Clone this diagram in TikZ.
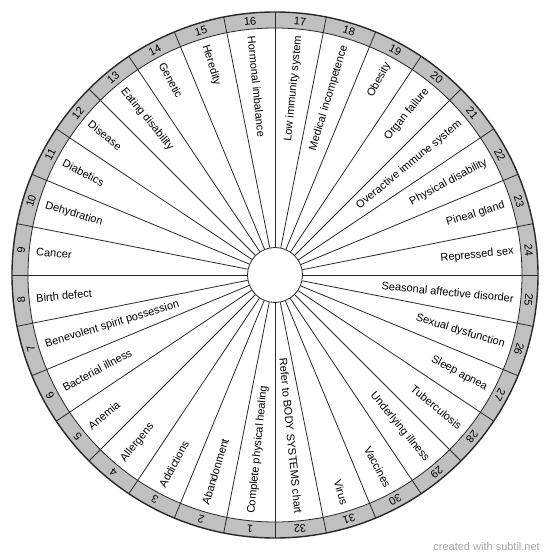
\documentclass[tikz,border=0pt]{standalone}
\usepackage{fontspec}
\setmainfont{Liberation Sans}
\usepackage{tikz}

\definecolor{ringgray}{RGB}{192,192,192}
\definecolor{spokegray}{RGB}{40,40,40}
\definecolor{markgray}{RGB}{165,165,165}

\tikzset{
  leftlbl/.style={anchor=west,inner sep=0pt,rotate=#1-180},
  rightlbl/.style={anchor=east,inner sep=0pt,rotate=#1},
  ringnum/.style={inner sep=0pt,rotate=#1-90}
}

\begin{document}
\begin{tikzpicture}[x=1pt,y=1pt,font=\fontsize{11}{13}\selectfont]
    \useasboundingbox (-275,-285) rectangle (275,275);
    % number band
    \fill[ringgray,even odd rule] (0,0) circle (263) (0,0) circle (247);
    \node[circle,draw=spokegray,line width=0.8pt,fill=white,minimum size=55pt,inner sep=0pt] (hub) at (0,0) {};
    \foreach \a in {0,11.25,...,359}
      \draw[spokegray,line width=0.8pt] (hub.\a) -- (\a:263);
    \draw[spokegray,line width=0.8pt] (0,0) circle (247);
    \draw[spokegray,line width=1.4pt] (0,0) circle (263);
    \foreach \k in {1,...,32}
      \node[ringnum={264.375-11.25*(\k-1)}] (n\k) at ({264.375-11.25*(\k-1)}:255) {\k};
    \begin{scope}
      \node[leftlbl=264.375] (l1) at (264.375:240) {Complete physical healing};
      \node[leftlbl=253.125] (l2) at (253.125:240) {Abandonment};
      \node[leftlbl=241.875] (l3) at (241.875:240) {Addictions};
      \node[leftlbl=230.625] (l4) at (230.625:240) {Allergens};
      \node[leftlbl=219.375] (l5) at (219.375:240) {Anemia};
      \node[leftlbl=208.125] (l6) at (208.125:240) {Bacterial illness};
      \node[leftlbl=196.875] (l7) at (196.875:240) {Benevolent spirit possession};
      \node[leftlbl=185.625] (l8) at (185.625:240) {Birth defect};
      \node[leftlbl=174.375] (l9) at (174.375:240) {Cancer};
      \node[leftlbl=163.125] (l10) at (163.125:240) {Dehydration};
      \node[leftlbl=151.875] (l11) at (151.875:240) {Diabetics};
      \node[leftlbl=140.625] (l12) at (140.625:240) {Disease};
      \node[leftlbl=129.375] (l13) at (129.375:240) {Eating disability};
      \node[leftlbl=118.125] (l14) at (118.125:240) {Genetic};
      \node[leftlbl=106.875] (l15) at (106.875:240) {Heredity};
      \node[leftlbl=95.625] (l16) at (95.625:240) {Hormonal imbalance};
    \end{scope}
    \begin{scope}
      \node[rightlbl=84.375] (l17) at (84.375:240) {Low immunity system};
      \node[rightlbl=73.125] (l18) at (73.125:240) {Medical incompetence};
      \node[rightlbl=61.875] (l19) at (61.875:240) {Obesity};
      \node[rightlbl=50.625] (l20) at (50.625:240) {Organ failure};
      \node[rightlbl=39.375] (l21) at (39.375:240) {Overactive immune system};
      \node[rightlbl=28.125] (l22) at (28.125:240) {Physical disability};
      \node[rightlbl=16.875] (l23) at (16.875:240) {Pineal gland};
      \node[rightlbl=5.625] (l24) at (5.625:240) {Repressed sex};
      \node[rightlbl=-5.625] (l25) at (-5.625:240) {Seasonal affective disorder};
      \node[rightlbl=-16.875] (l26) at (-16.875:240) {Sexual dysfunction};
      \node[rightlbl=-28.125] (l27) at (-28.125:240) {Sleep apnea};
      \node[rightlbl=-39.375] (l28) at (-39.375:240) {Tuberculosis};
      \node[rightlbl=-50.625] (l29) at (-50.625:240) {Underlying illness};
      \node[rightlbl=-61.875] (l30) at (-61.875:240) {Vaccines};
      \node[rightlbl=-73.125] (l31) at (-73.125:240) {Virus};
      \node[rightlbl=-84.375] (l32) at (-84.375:240) {Refer to BODY SYSTEMS chart};
    \end{scope}
    \node[anchor=east,text=markgray,inner sep=0pt] (credit) at (265,-272) {created with subtil.net};
\end{tikzpicture}
\end{document}
